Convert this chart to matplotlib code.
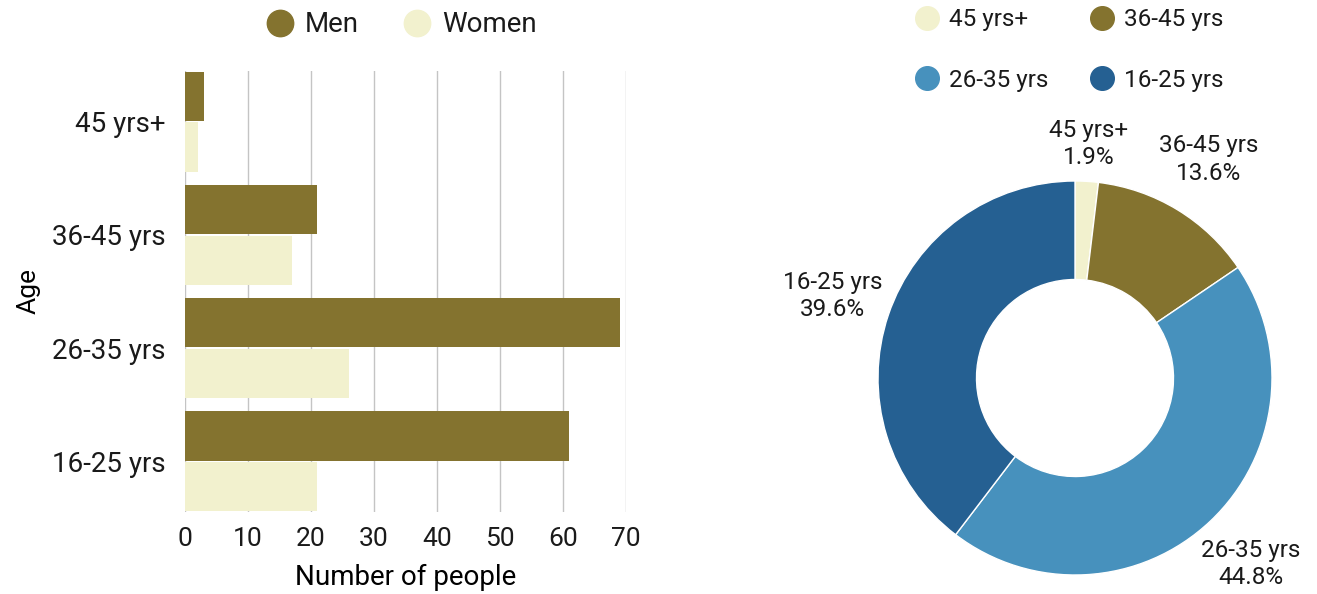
import numpy as np
import matplotlib
matplotlib.use("Agg")
import matplotlib.pyplot as plt
from matplotlib.lines import Line2D

# data
ages = ["16-25 yrs", "26-35 yrs", "36-45 yrs", "45 yrs+"]
men = [61, 69, 21, 3]
women = [21, 26, 17, 2]

pie_labels = ["45 yrs+", "36-45 yrs", "26-35 yrs", "16-25 yrs"]
pie_pct = [1.9, 13.6, 44.8, 39.6]

OLIVE = "#84732F"
CREAM = "#F2F1CE"
pie_colors = [CREAM, OLIVE, "#4791BD", "#256092"]
TXT = "#1a1a1a"

plt.rcParams["font.family"] = ["Roboto", "DejaVu Sans"]
plt.rcParams["text.color"] = TXT

fig = plt.figure(figsize=(13.17, 5.94), dpi=100)

# ---- left: grouped horizontal bars
ax = fig.add_axes([185/1317, 1-512/594, 441/1317, 441/594])
y = np.arange(len(ages))
ax.barh(y + 0.225, men, height=0.44, color=OLIVE, zorder=3)
ax.barh(y - 0.225, women, height=0.44, color=CREAM, zorder=3)
ax.set_ylim(-0.45, 3.45)
ax.set_xlim(0, 70)
ax.set_xticks(np.arange(0, 71, 10))
ax.set_yticks(y)
ax.set_yticklabels(ages)
ax.grid(axis="x", color="#C4C4C4", linewidth=1, zorder=0)
for s in ax.spines.values():
    s.set_visible(False)
ax.tick_params(axis="y", length=0, pad=14, labelsize=20, labelcolor=TXT)
ax.tick_params(axis="x", length=0, pad=11, labelsize=19, labelcolor=TXT)
ax.set_xlabel("Number of people", fontsize=20, labelpad=9)
ax.set_ylabel("Age", fontsize=19, labelpad=8)

h1 = [Line2D([], [], marker="o", ls="", markersize=19, color=c) for c in (OLIVE, CREAM)]
fig.legend(h1, ["Men", "Women"], loc="center", bbox_to_anchor=(400/1317, 1-25/594),
           ncol=2, frameon=False, fontsize=20, handletextpad=0.3, columnspacing=1.5,
           handlelength=1.2)

# ---- right: donut
r = 197
axp = fig.add_axes([(1075-r)/1317, (594-378-r)/594, 2*r/1317, 2*r/594])
wedges, _ = axp.pie(pie_pct, colors=pie_colors, startangle=90, counterclock=False,
                    radius=1, wedgeprops=dict(width=0.5, edgecolor="white", linewidth=1))
axp.set_xlim(-1, 1)
axp.set_ylim(-1, 1)
axp.set_aspect("equal")
for w, lab, p in zip(wedges, pie_labels, pie_pct):
    ang = np.deg2rad((w.theta1 + w.theta2) / 2)
    d = 1.19 if p < 5 else 1.3
    axp.text(d*np.cos(ang), d*np.sin(ang), f"{lab}\n{p:.1f}%", ha="center", va="center",
             fontsize=17.5, linespacing=1.25, clip_on=False)

order = [0, 2, 1, 3]
h2 = [Line2D([], [], marker="o", ls="", markersize=17, color=pie_colors[i]) for i in order]
fig.legend(h2, [pie_labels[i] for i in order], loc="center",
           bbox_to_anchor=(1068/1317, 1-50/594), ncol=2, frameon=False, fontsize=17.5,
           handletextpad=0.3, columnspacing=1.6, handlelength=1.2, labelspacing=1.55)

fig.savefig("out.png", dpi=100)
